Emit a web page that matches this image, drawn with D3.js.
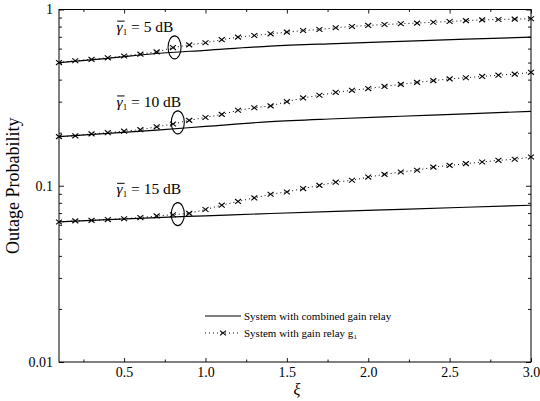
<!DOCTYPE html>
<html>
<head>
<meta charset="utf-8">
<script src="https://cdn.jsdelivr.net/npm/d3@7"></script>
<style>
  html, body { margin: 0; padding: 0; background: #fff; }
  svg { display: block; }
  text { font-family: "Liberation Serif", "DejaVu Serif", serif; fill: #000; }
</style>
</head>
<body>
<svg id="chart" width="540" height="401"></svg>
<script>
// ---- data ----
const xi = [0.1,0.2,0.3,0.4,0.5,0.6,0.7,0.8,0.9,1.0,1.1,1.2,1.3,1.4,1.5,1.6,1.7,1.8,1.9,2.0,2.1,2.2,2.3,2.4,2.5,2.6,2.7,2.8,2.9,3.0];
const g1_5dB  = [0.500,0.512,0.521,0.532,0.545,0.558,0.575,0.608,0.630,0.648,0.674,0.697,0.712,0.728,0.744,0.760,0.770,0.788,0.801,0.812,0.822,0.830,0.837,0.847,0.855,0.865,0.873,0.878,0.882,0.886];
const g1_10dB = [0.190,0.192,0.197,0.200,0.204,0.208,0.216,0.224,0.235,0.244,0.254,0.268,0.277,0.284,0.300,0.315,0.326,0.339,0.348,0.356,0.366,0.376,0.386,0.395,0.404,0.410,0.417,0.424,0.430,0.440];
const g1_15dB = [0.0623,0.0632,0.0636,0.0643,0.0650,0.0660,0.0674,0.0685,0.0697,0.0733,0.0776,0.0815,0.0853,0.0895,0.0922,0.0964,0.1005,0.1048,0.1074,0.1120,0.1160,0.1197,0.1225,0.1275,0.1305,0.1335,0.1364,0.1394,0.1413,0.1456];

const combX = [0.1,0.4,0.7,1.0,1.4,1.8,2.2,2.6,3.0];
const comb_5dB  = [0.500,0.528,0.563,0.587,0.620,0.641,0.660,0.679,0.697];
const comb_10dB = [0.190,0.198,0.207,0.217,0.231,0.240,0.248,0.256,0.264];
const comb_15dB = [0.0623,0.0643,0.0660,0.0675,0.0696,0.0716,0.0735,0.0755,0.0775];

const snrLabels = ["5 dB","10 dB","15 dB"];
const labelXi = [0.454, 0.454, 0.454];
const labelY  = [0.744, 0.280, 0.0894];
const ellipseXi = [0.81, 0.83, 0.83];
const ellipseY  = [0.61, 0.229, 0.069];

const xTicks = [0.5,1.0,1.5,2.0,2.5,3.0];
const xMinorTicks = [0.25,0.75,1.25,1.75,2.25,2.75];
const yTicks = [0.01,0.1,1];
const yTickLabels = ["0.01","0.1","1"];
const legendLabels = ["System with combined gain relay","System with gain relay g"];

// ---- layout ----
const svg = d3.select("#chart");
const L = 59, R = 531, T = 9.5, B = 362;
const x = d3.scaleLinear().domain([0.1,3.0]).range([L,R]);
const y = d3.scaleLog().domain([0.01,1]).range([B,T]);

const yMinor = [];
[0.01,0.1].forEach(d => { for (let k=2;k<=9;k++) yMinor.push(d*k); });

function styleAxis(g){ g.selectAll(".domain").remove(); g.selectAll("line").attr("stroke","#000").attr("stroke-width",0.9); }

svg.append("g").attr("transform",`translate(0,${B})`)
  .call(d3.axisBottom(x).tickValues(xTicks).tickFormat(d3.format(".1f")).tickSizeInner(-4).tickSizeOuter(0).tickPadding(5))
  .call(styleAxis).selectAll("text").attr("font-size",14).attr("font-family","Liberation Serif");
svg.append("g").attr("transform",`translate(0,${B})`)
  .call(d3.axisBottom(x).tickValues(xMinorTicks).tickFormat("").tickSizeInner(-2.5).tickSizeOuter(0)).call(styleAxis);
svg.append("g").attr("transform",`translate(0,${T})`)
  .call(d3.axisTop(x).tickValues(xTicks).tickFormat("").tickSizeInner(-4).tickSizeOuter(0)).call(styleAxis);
svg.append("g").attr("transform",`translate(0,${T})`)
  .call(d3.axisTop(x).tickValues(xMinorTicks).tickFormat("").tickSizeInner(-2.5).tickSizeOuter(0)).call(styleAxis);

svg.append("g").attr("transform",`translate(${L},0)`)
  .call(d3.axisLeft(y).tickValues(yTicks).tickFormat((d,i)=>yTickLabels[i]).tickSizeInner(-5).tickSizeOuter(0).tickPadding(6))
  .call(styleAxis).selectAll("text").attr("font-size",14).attr("font-family","Liberation Serif");
svg.append("g").attr("transform",`translate(${L},0)`)
  .call(d3.axisLeft(y).tickValues(yMinor).tickFormat("").tickSizeInner(-3).tickSizeOuter(0)).call(styleAxis);
svg.append("g").attr("transform",`translate(${R},0)`)
  .call(d3.axisRight(y).tickValues(yTicks).tickFormat("").tickSizeInner(-5).tickSizeOuter(0)).call(styleAxis);
svg.append("g").attr("transform",`translate(${R},0)`)
  .call(d3.axisRight(y).tickValues(yMinor).tickFormat("").tickSizeInner(-3).tickSizeOuter(0)).call(styleAxis);

// frame
svg.append("rect").attr("x",L).attr("y",T).attr("width",R-L).attr("height",B-T)
  .attr("fill","none").attr("stroke","#000").attr("stroke-width",1);

// curves
const line = d3.line().x(d=>x(d[0])).y(d=>y(d[1])).curve(d3.curveMonotoneX);
const combSeries = [comb_5dB, comb_10dB, comb_15dB];
const g1Series = [g1_5dB, g1_10dB, g1_15dB];

combSeries.forEach(s => {
  svg.append("path").datum(combX.map((v,i)=>[v,s[i]]))
    .attr("d",line).attr("fill","none").attr("stroke","#000").attr("stroke-width",1.2);
});

function cross(g, cx, cy, r){
  g.append("path").attr("d",`M${cx-r},${cy-r*0.8}L${cx+r},${cy+r*0.8}M${cx-r},${cy+r*0.8}L${cx+r},${cy-r*0.8}`)
    .attr("stroke","#000").attr("stroke-width",1.1).attr("fill","none");
}

g1Series.forEach(s => {
  const pts = xi.map((v,i)=>[v,s[i]]);
  svg.append("path").datum(pts).attr("d",d3.line().x(d=>x(d[0])).y(d=>y(d[1])))
    .attr("fill","none").attr("stroke","#000").attr("stroke-width",1).attr("stroke-dasharray","1,3");
  const g = svg.append("g");
  pts.forEach(p => cross(g, x(p[0]), y(p[1]), 3));
});

// ellipses
ellipseXi.forEach((v,i) => {
  svg.append("ellipse").attr("cx",x(v)).attr("cy",y(ellipseY[i])).attr("rx",6.5).attr("ry",11.5)
    .attr("fill","none").attr("stroke","#000").attr("stroke-width",1.1);
});

// SNR labels
snrLabels.forEach((lab,i) => {
  const lx = x(labelXi[i]), ly = y(labelY[i]);
  const t = svg.append("text").attr("x",lx).attr("y",ly).attr("font-size",15.5);
  t.append("tspan").attr("font-style","italic").text("γ");
  t.append("tspan").attr("font-size",9).attr("dy",3).text("1");
  t.append("tspan").attr("dy",-3).text(" = " + lab);
  svg.append("line").attr("x1",lx+0.5).attr("x2",lx+8).attr("y1",ly-11).attr("y2",ly-11)
    .attr("stroke","#000").attr("stroke-width",1);
});

// axis titles
svg.append("text").attr("transform",`translate(19,${(T+B)/2}) rotate(-90)`)
  .attr("text-anchor","middle").attr("font-size",18).text("Outage Probability");
svg.append("text").attr("x",297).attr("y",395).attr("text-anchor","middle")
  .attr("font-size",16).attr("font-style","italic").text("ξ");

// legend
const lg = svg.append("g");
lg.append("line").attr("x1",205).attr("x2",241).attr("y1",316).attr("y2",316).attr("stroke","#000").attr("stroke-width",1.2);
lg.append("text").attr("x",244).attr("y",319.5).attr("font-size",11).text(legendLabels[0]);
lg.append("line").attr("x1",205).attr("x2",241).attr("y1",333).attr("y2",333).attr("stroke","#000").attr("stroke-width",1).attr("stroke-dasharray","1,3");
cross(lg, 223, 333, 3);
const t2 = lg.append("text").attr("x",244).attr("y",337).attr("font-size",11);
t2.append("tspan").text(legendLabels[1]);
t2.append("tspan").attr("font-size",7).attr("dy",2).text("1");
</script>
</body>
</html>
